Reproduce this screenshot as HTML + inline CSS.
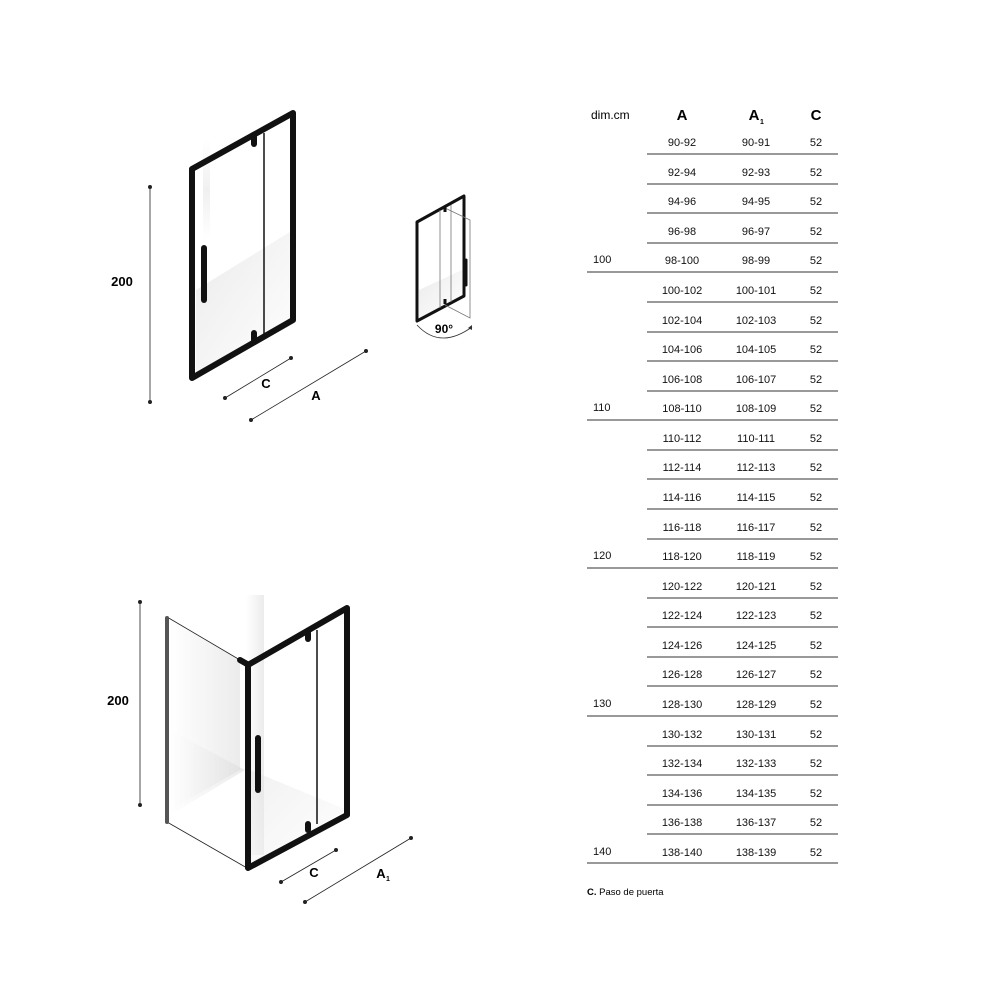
<!DOCTYPE html>
<html><head><meta charset="utf-8"><style>
html,body{margin:0;padding:0;background:#fff;}
svg{display:block;font-family:"Liberation Sans",sans-serif;}
</style></head><body>
<svg width="1000" height="1000" viewBox="0 0 1000 1000" xmlns="http://www.w3.org/2000/svg">
<defs>
<linearGradient id="fl" x1="0" y1="0" x2="1" y2="1"><stop offset="0" stop-color="#ddd"/><stop offset="1" stop-color="#fff"/></linearGradient>
<linearGradient id="wl" x1="0" y1="0" x2="1" y2="0"><stop offset="0" stop-color="#fff"/><stop offset="1" stop-color="#d8d8d8"/></linearGradient>
<linearGradient id="vs" x1="0" y1="0" x2="0" y2="1"><stop offset="0" stop-color="#fff"/><stop offset="0.5" stop-color="#f0f0f0"/><stop offset="1" stop-color="#fff"/></linearGradient>
</defs>
<!-- Drawing 1 -->
<polygon points="196,290 293,230 293,318 196,372" fill="url(#fl)" opacity="0.6"/>
<rect x="203" y="140" width="7" height="100" fill="url(#vs)"/>
<polygon points="192,169 293,113 293,320 192,378" fill="none" stroke="#111" stroke-width="6" stroke-linejoin="round"/>
<line x1="264" y1="133" x2="264" y2="336" stroke="#111" stroke-width="1.5"/>
<line x1="254" y1="137" x2="254" y2="144" stroke="#111" stroke-width="6" stroke-linecap="round"/>
<line x1="254" y1="333" x2="254" y2="340" stroke="#111" stroke-width="6" stroke-linecap="round"/>
<line x1="204" y1="248" x2="204" y2="300" stroke="#111" stroke-width="6" stroke-linecap="round"/>
<g stroke="#222" stroke-width="0.8" fill="#222">
<line x1="150" y1="187" x2="150" y2="402"/><circle cx="150" cy="187" r="1.6"/><circle cx="150" cy="402" r="1.6"/>
<line x1="225" y1="398" x2="291" y2="358"/><circle cx="225" cy="398" r="1.6"/><circle cx="291" cy="358" r="1.6"/>
<line x1="251" y1="420" x2="366" y2="351"/><circle cx="251" cy="420" r="1.6"/><circle cx="366" cy="351" r="1.6"/>
</g>
<text x="122" y="286" font-size="13" font-weight="bold" text-anchor="middle">200</text>
<text x="266" y="388" font-size="13" font-weight="bold" text-anchor="middle">C</text>
<text x="316" y="400" font-size="13" font-weight="bold" text-anchor="middle">A</text>
<!-- Small drawing -->
<polygon points="419,290 462,270 462,296 419,318" fill="url(#fl)" opacity="0.6"/>
<polygon points="417,222 464,196 464,296 417,321" fill="none" stroke="#111" stroke-width="3" stroke-linejoin="round"/>
<line x1="440" y1="210" x2="440" y2="308" stroke="#777" stroke-width="0.8"/>
<line x1="451" y1="205" x2="451" y2="302" stroke="#777" stroke-width="0.8"/>
<polyline points="445,208 470,220 470,318 445,305" fill="none" stroke="#777" stroke-width="0.8"/>
<line x1="466" y1="260" x2="466" y2="285" stroke="#111" stroke-width="3" stroke-linecap="round"/>
<line x1="445" y1="207" x2="445" y2="212" stroke="#111" stroke-width="3"/>
<line x1="445" y1="299" x2="445" y2="304" stroke="#111" stroke-width="3"/>
<path d="M417,325 Q440,350 472,327" fill="none" stroke="#333" stroke-width="0.8"/>
<polygon points="472,325 468,328 472,330" fill="#333"/>
<text x="444" y="333" font-size="12" font-weight="bold" text-anchor="middle">90°</text>
<!-- Drawing 2 -->
<rect x="246" y="595" width="18" height="260" fill="url(#wl)" opacity="0.5"/>
<polygon points="170,815 245,770 170,730" fill="url(#wl)" opacity="0.5"/>
<polygon points="170,620 240,660 240,770 170,810" fill="url(#wl)" opacity="0.5"/>
<polygon points="250,770 347,810 250,865" fill="url(#fl)" opacity="0.4"/>
<line x1="167" y1="617" x2="240" y2="660" stroke="#222" stroke-width="0.8"/>
<line x1="167" y1="822" x2="247" y2="868" stroke="#222" stroke-width="0.8"/>
<line x1="167" y1="618" x2="167" y2="822" stroke="#555" stroke-width="4" stroke-linecap="round"/>
<line x1="240" y1="660" x2="247" y2="664" stroke="#111" stroke-width="6" stroke-linecap="round"/>
<polygon points="248,665 347,608 347,815 248,868" fill="none" stroke="#111" stroke-width="6" stroke-linejoin="round"/>
<line x1="317" y1="630" x2="317" y2="824" stroke="#111" stroke-width="1.5"/>
<line x1="308" y1="633" x2="308" y2="639" stroke="#111" stroke-width="6" stroke-linecap="round"/>
<line x1="308" y1="824" x2="308" y2="830" stroke="#111" stroke-width="6" stroke-linecap="round"/>
<line x1="258" y1="738" x2="258" y2="790" stroke="#111" stroke-width="6" stroke-linecap="round"/>
<g stroke="#222" stroke-width="0.8" fill="#222">
<line x1="140" y1="602" x2="140" y2="805"/><circle cx="140" cy="602" r="1.6"/><circle cx="140" cy="805" r="1.6"/>
<line x1="281" y1="882" x2="336" y2="850"/><circle cx="281" cy="882" r="1.6"/><circle cx="336" cy="850" r="1.6"/>
<line x1="305" y1="902" x2="411" y2="838"/><circle cx="305" cy="902" r="1.6"/><circle cx="411" cy="838" r="1.6"/>
</g>
<text x="118" y="705" font-size="13" font-weight="bold" text-anchor="middle">200</text>
<text x="314" y="877" font-size="13" font-weight="bold" text-anchor="middle">C</text>
<text x="381" y="878" font-size="13" font-weight="bold" text-anchor="middle">A</text>
<text x="386" y="881" font-size="7" font-weight="bold">1</text>
<!-- Table -->
<text x="591" y="119" font-size="12">dim.cm</text>
<text x="682" y="120" font-size="15" font-weight="bold" text-anchor="middle">A</text>
<text x="754" y="120" font-size="15" font-weight="bold" text-anchor="middle">A</text>
<text x="760" y="124" font-size="7" font-weight="bold">1</text>
<text x="816" y="120" font-size="15" font-weight="bold" text-anchor="middle">C</text>
<g font-size="11" fill="#111" text-anchor="middle">
<text x="682" y="146">90-92</text><text x="756" y="146">90-91</text><text x="816" y="146">52</text>
<text x="682" y="176">92-94</text><text x="756" y="176">92-93</text><text x="816" y="176">52</text>
<text x="682" y="205">94-96</text><text x="756" y="205">94-95</text><text x="816" y="205">52</text>
<text x="682" y="235">96-98</text><text x="756" y="235">96-97</text><text x="816" y="235">52</text>
<text x="682" y="264">98-100</text><text x="756" y="264">98-99</text><text x="816" y="264">52</text>
<text x="682" y="294">100-102</text><text x="756" y="294">100-101</text><text x="816" y="294">52</text>
<text x="682" y="324">102-104</text><text x="756" y="324">102-103</text><text x="816" y="324">52</text>
<text x="682" y="353">104-106</text><text x="756" y="353">104-105</text><text x="816" y="353">52</text>
<text x="682" y="383">106-108</text><text x="756" y="383">106-107</text><text x="816" y="383">52</text>
<text x="682" y="412">108-110</text><text x="756" y="412">108-109</text><text x="816" y="412">52</text>
<text x="682" y="442">110-112</text><text x="756" y="442">110-111</text><text x="816" y="442">52</text>
<text x="682" y="471">112-114</text><text x="756" y="471">112-113</text><text x="816" y="471">52</text>
<text x="682" y="501">114-116</text><text x="756" y="501">114-115</text><text x="816" y="501">52</text>
<text x="682" y="531">116-118</text><text x="756" y="531">116-117</text><text x="816" y="531">52</text>
<text x="682" y="560">118-120</text><text x="756" y="560">118-119</text><text x="816" y="560">52</text>
<text x="682" y="590">120-122</text><text x="756" y="590">120-121</text><text x="816" y="590">52</text>
<text x="682" y="619">122-124</text><text x="756" y="619">122-123</text><text x="816" y="619">52</text>
<text x="682" y="649">124-126</text><text x="756" y="649">124-125</text><text x="816" y="649">52</text>
<text x="682" y="678">126-128</text><text x="756" y="678">126-127</text><text x="816" y="678">52</text>
<text x="682" y="708">128-130</text><text x="756" y="708">128-129</text><text x="816" y="708">52</text>
<text x="682" y="738">130-132</text><text x="756" y="738">130-131</text><text x="816" y="738">52</text>
<text x="682" y="767">132-134</text><text x="756" y="767">132-133</text><text x="816" y="767">52</text>
<text x="682" y="797">134-136</text><text x="756" y="797">134-135</text><text x="816" y="797">52</text>
<text x="682" y="826">136-138</text><text x="756" y="826">136-137</text><text x="816" y="826">52</text>
<text x="682" y="856">138-140</text><text x="756" y="856">138-139</text><text x="816" y="856">52</text>
</g>
<g font-size="11" fill="#111">
<text x="593" y="263">100</text><text x="593" y="411">110</text><text x="593" y="559">120</text><text x="593" y="707">130</text><text x="593" y="855">140</text>
</g>
<g stroke="#333" stroke-width="1">
<line x1="647" y1="154" x2="838" y2="154"/><line x1="647" y1="184" x2="838" y2="184"/><line x1="647" y1="213" x2="838" y2="213"/><line x1="647" y1="243" x2="838" y2="243"/>
<line x1="587" y1="272" x2="838" y2="272"/>
<line x1="647" y1="302" x2="838" y2="302"/><line x1="647" y1="332" x2="838" y2="332"/><line x1="647" y1="361" x2="838" y2="361"/><line x1="647" y1="391" x2="838" y2="391"/>
<line x1="587" y1="420" x2="838" y2="420"/>
<line x1="647" y1="450" x2="838" y2="450"/><line x1="647" y1="479" x2="838" y2="479"/><line x1="647" y1="509" x2="838" y2="509"/><line x1="647" y1="539" x2="838" y2="539"/>
<line x1="587" y1="568" x2="838" y2="568"/>
<line x1="647" y1="598" x2="838" y2="598"/><line x1="647" y1="627" x2="838" y2="627"/><line x1="647" y1="657" x2="838" y2="657"/><line x1="647" y1="686" x2="838" y2="686"/>
<line x1="587" y1="716" x2="838" y2="716"/>
<line x1="647" y1="746" x2="838" y2="746"/><line x1="647" y1="775" x2="838" y2="775"/><line x1="647" y1="805" x2="838" y2="805"/><line x1="647" y1="834" x2="838" y2="834"/>
<line x1="587" y1="863" x2="838" y2="863"/>
</g>
<text x="587" y="895" font-size="9.5"><tspan font-weight="bold">C.</tspan> Paso de puerta</text>
</svg>
</body></html>
